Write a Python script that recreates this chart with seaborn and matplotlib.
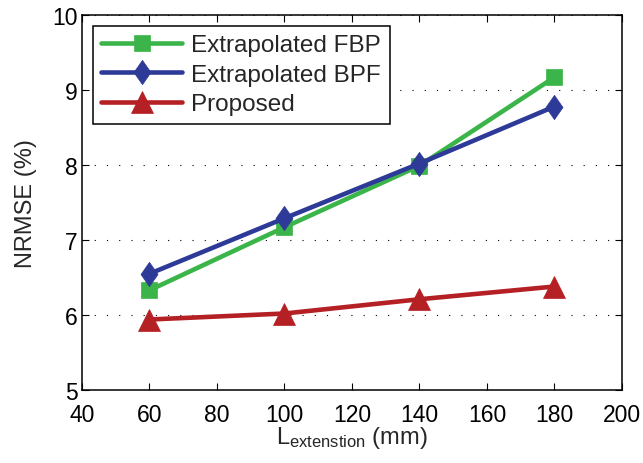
import matplotlib
matplotlib.use("Agg")
import matplotlib.pyplot as plt
import seaborn as sns
import pandas as pd
from matplotlib.path import Path

x_vals = [60, 100, 140, 180]
fbp = [6.33, 7.17, 7.99, 9.17]
bpf = [6.55, 7.29, 8.02, 8.78]
proposed = [5.94, 6.02, 6.21, 6.38]
series_names = ["Extrapolated FBP", "Extrapolated BPF", "Proposed"]
x_ticks = [40, 60, 80, 100, 120, 140, 160, 180, 200]
y_ticks = [5, 6, 7, 8, 9, 10]

sns.set_theme(style="white")
plt.rcParams['font.family'] = ['Liberation Sans', 'DejaVu Sans']
plt.rcParams['mathtext.fontset'] = 'custom'
plt.rcParams['mathtext.rm'] = 'Liberation Sans'
plt.rcParams['mathtext.it'] = 'Liberation Sans'

rows = []
for name, vals in zip(series_names, [fbp, bpf, proposed]):
    for xv, yv in zip(x_vals, vals):
        rows.append({"x": xv, "y": yv, "series": name})
df = pd.DataFrame(rows)

colors = {"Extrapolated FBP": "#3bb54a", "Extrapolated BPF": "#2e3a98", "Proposed": "#b52025"}
diamond = Path([(0, 1), (0.7, 0), (0, -1), (-0.7, 0), (0, 1)],
               [Path.MOVETO, Path.LINETO, Path.LINETO, Path.LINETO, Path.CLOSEPOLY])
markers = {"Extrapolated FBP": "s", "Extrapolated BPF": diamond, "Proposed": "^"}
msizes = {"Extrapolated FBP": 11.5, "Extrapolated BPF": 17.5, "Proposed": 16}

fig = plt.figure(figsize=(6.43, 4.64), dpi=100)
ax = fig.add_axes([0.1275, 0.1573, 0.8398, 0.8082])

for name in series_names:
    sub = df[df.series == name]
    sns.lineplot(data=sub, x="x", y="y", ax=ax, color=colors[name], marker=markers[name],
                 markersize=msizes[name], markeredgecolor=colors[name], markeredgewidth=0.5,
                 linewidth=3.3, label=name, legend=False)

ax.set_xlim(40, 200)
ax.set_ylim(5, 10)
ax.set_xticks(x_ticks)
ax.set_yticks(y_ticks)
ax.tick_params(direction="in", length=5, width=0.8, top=True, right=True,
               bottom=True, left=True, labelsize=16.5, colors="black", pad=3)
ax.tick_params(axis="x", pad=9)
for s in ax.spines.values():
    s.set_color("black")
    s.set_linewidth(1.1)
ax.yaxis.grid(True, linestyle=(0, (1, 10)), color="black", linewidth=0.8)
ax.xaxis.grid(False)
ax.set_ylabel("NRMSE (%)", fontsize=17, labelpad=11)
ax.set_xlabel(r"L$_{\mathrm{extenstion}}$ (mm)", fontsize=17, labelpad=-1)

leg = ax.legend(loc="upper left", fontsize=17.5, frameon=True, fancybox=False,
                edgecolor="black", framealpha=1, handlelength=3.3, handletextpad=0.4,
                borderaxespad=0.45, labelspacing=0.3, borderpad=0.35)
leg.get_frame().set_linewidth(1.1)

fig.savefig("out.png", dpi=100)
